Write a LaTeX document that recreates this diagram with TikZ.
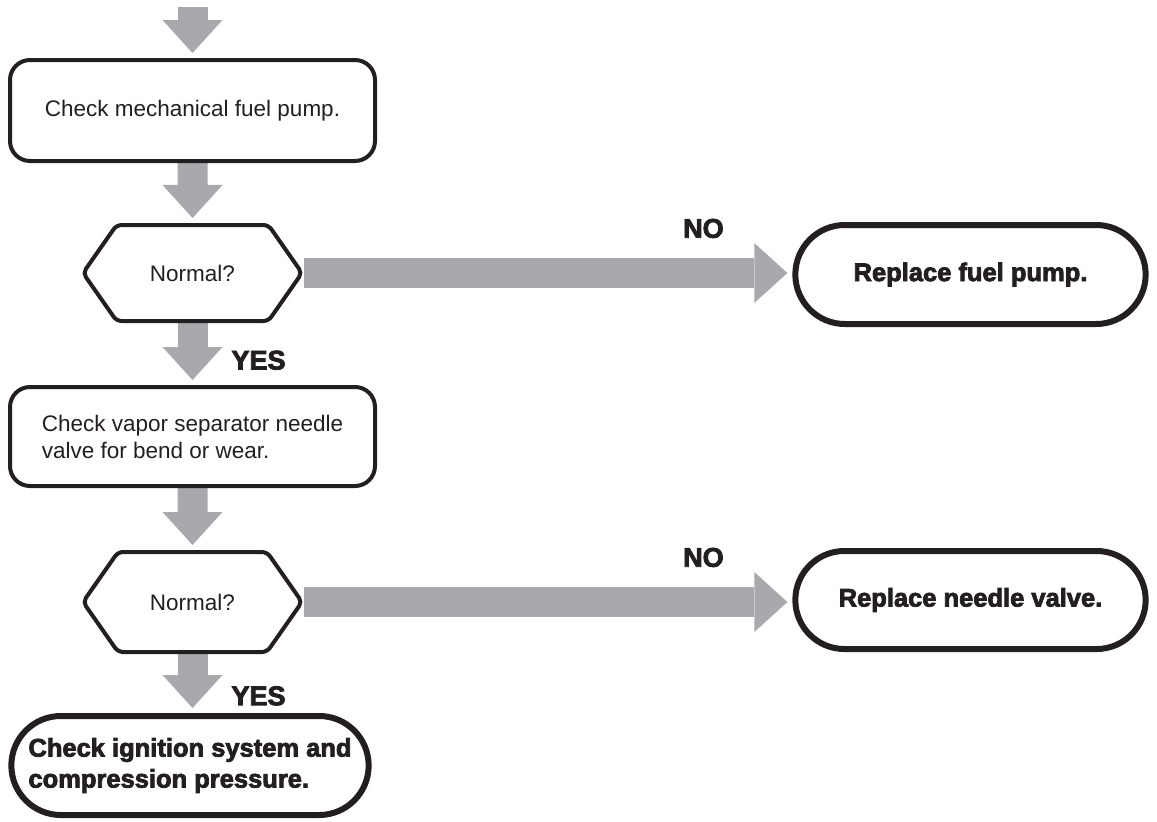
\documentclass[tikz,border=0pt]{standalone}
\usepackage{fontspec}
\setmainfont{Liberation Sans}
\newfontfamily\heavyfont[BoldFeatures={FakeBold=3}]{Liberation Sans}
\usetikzlibrary{arrows.meta,shapes.misc,shapes.symbols,backgrounds}
\definecolor{ink}{HTML}{231F20}
\definecolor{flow}{HTML}{A7A9AC}

\begin{document}
\begin{tikzpicture}[x=1pt,y=-1pt]

\tikzstyle{task}=[draw=ink, line width=4pt, rounded corners=20pt,
    fill=white, text=ink, font=\fontsize{22.5}{27}\selectfont]
\tikzstyle{query}=[shape=signal, signal to=west and east,
    signal pointer angle=110, rounded corners=5pt,
    draw=ink, line width=4pt, fill=white, text=ink,
    minimum width=219pt, font=\fontsize{22.5}{27}\selectfont]
\tikzstyle{finish}=[shape=rounded rectangle, draw=ink, line width=6pt,
    fill=white, text=ink, font=\heavyfont\bfseries\fontsize{25.5}{31}\selectfont]
\tikzstyle{flowline}=[flow, line width=30pt, shorten >=5pt,
    -{Triangle[width=60pt, length=33pt, line width=0pt]}]
\tikzstyle{answer}=[text=ink, inner sep=0pt,
    font=\heavyfont\bfseries\fontsize{27}{31}\selectfont]

  \useasboundingbox (0,0) rectangle (1157,822);

  \coordinate (entry) at (192.5,7);
  \node[task, minimum width=365pt, minimum height=101pt] (pump) at (192.5,110.5) {Check mechanical fuel pump.};
  \node[query, minimum height=96pt] (pumpok) at (192.5,273) {Normal?};
  \node[finish, minimum width=357pt, minimum height=99pt] (newpump) at (970.5,274.5) {Replace fuel pump.};
  \node[task, minimum width=365pt, minimum height=99pt, align=left] (needle) at (192.5,436.5) {Check vapor separator needle\\valve for bend or wear.};
  \node[query, minimum height=100pt] (needleok) at (192.5,602) {Normal?};
  \node[finish, minimum width=357pt, minimum height=98pt] (newneedle) at (970.5,600) {Replace needle valve.};
  \node[finish, minimum width=364pt, minimum height=99pt, align=left] (ignition) at (190,765.5) {Check ignition system and\\compression pressure.};

  % grey block arrows sit behind the boxes
  \begin{pgfonlayer}{background}
  \draw[flowline] (entry) -- (pump);
  \draw[flowline] (pump) -- (pumpok);
  \draw[flowline] (pumpok.east) -- node[answer, pos=0.89, anchor=south east, yshift=20pt] {NO} (pumpok.east -| newpump.west);
  \draw[flowline] (pumpok) -- node[answer, pos=0.6, anchor=west, xshift=24pt] {YES} (needle);
  \draw[flowline] (needle) -- (needleok);
  \draw[flowline] (needleok.east) -- node[answer, pos=0.89, anchor=south east, yshift=20pt] {NO} (needleok.east -| newneedle.west);
  \draw[flowline] (needleok.south) -- node[answer, pos=0.71, anchor=west, xshift=24pt] {YES} (needleok.south |- ignition.north);
  \end{pgfonlayer}

\end{tikzpicture}
\end{document}
